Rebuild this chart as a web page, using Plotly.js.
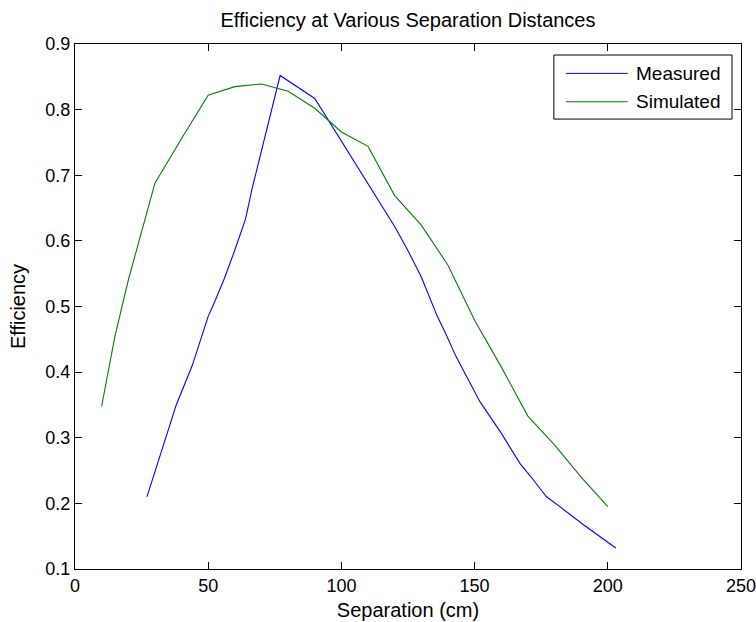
<!DOCTYPE html>
<html>
<head>
<meta charset="utf-8">
<script src="https://cdn.plot.ly/plotly-3.0.1.min.js"></script>
<style>
html, body { margin: 0; padding: 0; background: #ffffff; }
#chart { width: 756px; height: 622px; }
</style>
</head>
<body>
<div id="chart"></div>
<script>
// Data
var seriesNames = ["Measured", "Simulated"];
var measuredX = [27, 32, 38, 44, 50, 52, 56, 60, 64, 66.5, 77, 90, 100, 110, 120, 125, 130, 136, 139, 143, 147, 152, 160, 167, 172, 177, 182, 191, 203];
var measuredY = [0.21, 0.275, 0.35, 0.41, 0.485, 0.503, 0.542, 0.586, 0.633, 0.68, 0.852, 0.817, 0.752, 0.686, 0.622, 0.585, 0.545, 0.485, 0.46, 0.424, 0.393, 0.355, 0.307, 0.261, 0.236, 0.21, 0.195, 0.167, 0.132];
var simulatedX = [10, 15, 20, 30, 40, 50, 60, 70, 80, 90, 100, 110, 120, 130, 140, 150, 160, 170, 180, 190, 200];
var simulatedY = [0.348, 0.455, 0.54, 0.688, 0.756, 0.822, 0.835, 0.839, 0.828, 0.802, 0.766, 0.744, 0.669, 0.624, 0.563, 0.479, 0.408, 0.333, 0.289, 0.24, 0.195];
var xTicks = [0, 50, 100, 150, 200, 250];
var yTicks = [0.1, 0.2, 0.3, 0.4, 0.5, 0.6, 0.7, 0.8, 0.9];

var colors = ["#0000ff", "#008000"];
var FONT = "Liberation Sans, Arial, Helvetica, sans-serif";

var traces = [
  { x: measuredX, y: measuredY, type: "scatter", mode: "lines", name: seriesNames[0],
    line: { color: colors[0], width: 1.1 }, showlegend: false },
  { x: simulatedX, y: simulatedY, type: "scatter", mode: "lines", name: seriesNames[1],
    line: { color: colors[1], width: 1.1 }, showlegend: false }
];

// Custom legend (box, sample lines, labels) in paper coordinates
var legBox = { x0: 0.719, x1: 0.9865, y0: 0.857, y1: 0.979 };
var legLineX = [0.737, 0.830];
var legRowY = [0.944, 0.890];
var legTextX = 0.839;

var shapes = [
  { type: "rect", xref: "paper", yref: "paper", x0: legBox.x0, x1: legBox.x1, y0: legBox.y0, y1: legBox.y1,
    line: { color: "#000000", width: 1 }, fillcolor: "#ffffff", layer: "above" }
];
var annotations = [];
for (var i = 0; i < seriesNames.length; i++) {
  shapes.push({ type: "line", xref: "paper", yref: "paper", x0: legLineX[0], x1: legLineX[1],
    y0: legRowY[i], y1: legRowY[i], line: { color: colors[i], width: 1 }, layer: "above" });
  annotations.push({ xref: "paper", yref: "paper", x: legTextX, y: legRowY[i], xanchor: "left", yanchor: "middle",
    text: seriesNames[i], showarrow: false, font: { family: FONT, size: 19, color: "#000000" } });
}

var layout = {
  width: 756, height: 622,
  margin: { l: 75, r: 15, t: 44, b: 53, pad: 0 },
  paper_bgcolor: "#ffffff", plot_bgcolor: "#ffffff",
  font: { family: FONT, color: "#000000", size: 18 },
  title: { text: "Efficiency at Various Separation Distances", font: { family: FONT, size: 20, color: "#000000" },
    xref: "paper", x: 0.5, xanchor: "center", yref: "container", y: 1 - 20 / 622, yanchor: "middle" },
  xaxis: {
    range: [0, 250], tickvals: xTicks, ticktext: xTicks.map(String),
    showgrid: false, zeroline: false, showline: true, linecolor: "#000000", linewidth: 1,
    mirror: "ticks", ticks: "inside", ticklen: 7, tickcolor: "#000000", tickwidth: 1,
    ticklabeloverflow: "allow",
    tickfont: { family: FONT, size: 18, color: "#000000" },
    title: { text: "Separation (cm)", font: { family: FONT, size: 20, color: "#000000" }, standoff: 8 },
    automargin: false
  },
  yaxis: {
    range: [0.1, 0.9], tickvals: yTicks, ticktext: yTicks.map(function (v) { return v.toFixed(1); }),
    showgrid: false, zeroline: false, showline: true, linecolor: "#000000", linewidth: 1,
    mirror: "ticks", ticks: "inside", ticklen: 7, tickcolor: "#000000", tickwidth: 1,
    ticklabeloverflow: "allow",
    tickfont: { family: FONT, size: 18, color: "#000000" },
    title: { text: "Efficiency", font: { family: FONT, size: 20, color: "#000000" }, standoff: 14 },
    automargin: false
  },
  shapes: shapes,
  annotations: annotations,
  showlegend: false
};

Plotly.newPlot("chart", traces, layout, { displayModeBar: false, staticPlot: true });
</script>
</body>
</html>
